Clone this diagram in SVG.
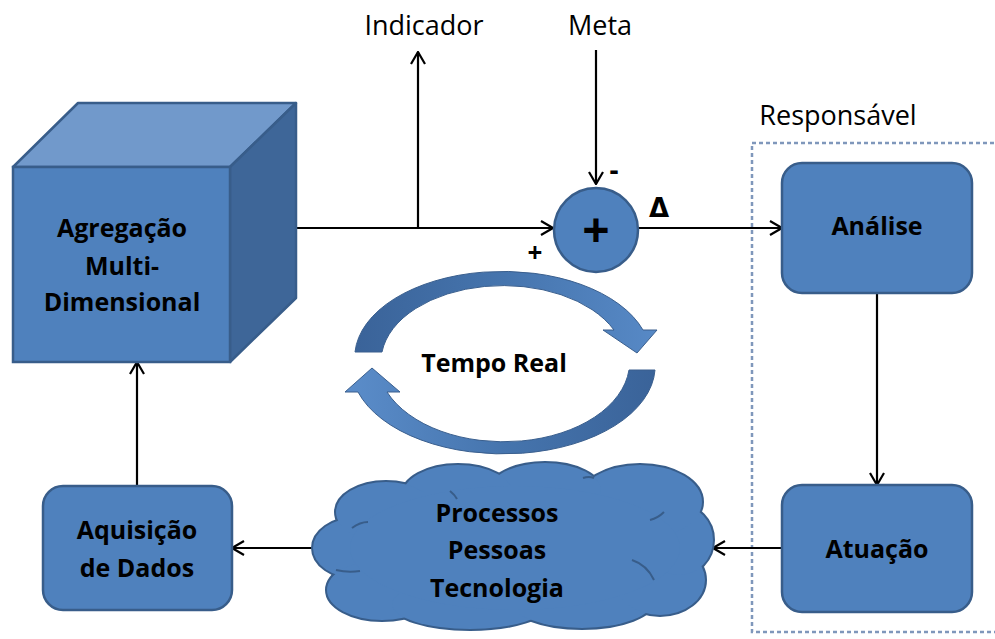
<svg xmlns="http://www.w3.org/2000/svg" width="995" height="639" viewBox="0 0 995 639">
  <style>
    .lbl { font-family: "Open Sans", "Noto Sans", "Liberation Sans", sans-serif; font-weight: bold; font-size: 25px; fill: #000; text-anchor: middle; }
    .cap { font-family: "Open Sans", "Noto Sans", "Liberation Sans", sans-serif; font-size: 27px; fill: #000; text-anchor: middle; }
    .sym { font-family: "Open Sans", "Liberation Sans", sans-serif; font-weight: bold; fill: #000; text-anchor: middle; }
    .box { fill: #4F81BD; stroke: #385D8A; stroke-width: 2.5; }
    .wire { fill: none; stroke: #000; stroke-width: 2.2; }
    .cloudline { fill: none; stroke: #385D8A; stroke-width: 2; }
  </style>
  <defs>
    <marker id="arr" viewBox="0 0 14 16" refX="13" refY="8" markerWidth="14" markerHeight="16" markerUnits="userSpaceOnUse" orient="auto">
      <path d="M1,1 L13,8 L1,15" fill="none" stroke="#000" stroke-width="2.2"/>
    </marker>
    <linearGradient id="gUp" x1="0" y1="0" x2="1" y2="0">
      <stop offset="0" stop-color="#3A6399"/>
      <stop offset="0.5" stop-color="#4675AE"/>
      <stop offset="1" stop-color="#5789C6"/>
    </linearGradient>
    <linearGradient id="gDown" x1="1" y1="0" x2="0" y2="0">
      <stop offset="0" stop-color="#3A6399"/>
      <stop offset="0.5" stop-color="#4675AE"/>
      <stop offset="1" stop-color="#5B8DCA"/>
    </linearGradient>
  </defs>

  <rect width="995" height="639" fill="#fff"/>

  <!-- responsibility frame -->
  <rect id="responsavel-frame" x="752" y="143" width="260" height="489" fill="none" stroke="#7F97BB" stroke-width="2.5" stroke-dasharray="4 3"/>
  <text class="cap" x="838" y="125">Responsável</text>

  <!-- connectors -->
  <g id="connectors">
    <line class="wire" x1="296" y1="228" x2="553" y2="228" marker-end="url(#arr)"/>
    <line class="wire" x1="418" y1="228" x2="418" y2="52" marker-end="url(#arr)"/>
    <line class="wire" x1="596" y1="50" x2="596" y2="184" marker-end="url(#arr)"/>
    <line class="wire" x1="638" y1="228" x2="782" y2="228" marker-end="url(#arr)"/>
    <line class="wire" x1="877" y1="293" x2="877" y2="485" marker-end="url(#arr)"/>
    <line class="wire" x1="782" y1="548" x2="713" y2="548" marker-end="url(#arr)"/>
    <line class="wire" x1="313" y1="548" x2="232" y2="548" marker-end="url(#arr)"/>
    <line class="wire" x1="137" y1="486" x2="137" y2="362" marker-end="url(#arr)"/>
  </g>

  <!-- top labels -->
  <text class="cap" x="424" y="35">Indicador</text>
  <text class="cap" x="600" y="35">Meta</text>

  <!-- cube -->
  <g id="agregacao">
    <polygon points="13,167 78,103 296,103 230,167" fill="#7199CB" stroke="#385D8A" stroke-width="2.5" stroke-linejoin="round"/>
    <polygon points="230,167 296,103 296,298 230,362" fill="#3E6698" stroke="#385D8A" stroke-width="2.5" stroke-linejoin="round"/>
    <rect x="13" y="167" width="217" height="195" fill="#4F81BD" stroke="#385D8A" stroke-width="2.5"/>
    <text class="lbl" x="122" y="237">Agregação</text>
    <text class="lbl" x="122" y="275">Multi-</text>
    <text class="lbl" x="122" y="311">Dimensional</text>
  </g>

  <!-- summing junction -->
  <g id="soma">
    <circle cx="596" cy="230" r="42" fill="#4F81BD" stroke="#385D8A" stroke-width="2.5"/>
    <text class="sym" x="596" y="247" font-size="48">+</text>
    <text class="sym" x="614" y="180" font-size="28">-</text>
    <text class="sym" x="535" y="262" font-size="26">+</text>
    <text x="659" y="217" font-family="DejaVu Sans, sans-serif" font-weight="bold" font-size="26" text-anchor="middle">Δ</text>
  </g>

  <!-- process boxes -->
  <g id="analise">
    <rect class="box" x="782" y="163" width="190" height="130" rx="20"/>
    <text class="lbl" x="877" y="235">Análise</text>
  </g>
  <g id="atuacao">
    <rect class="box" x="782" y="485" width="190" height="127" rx="20"/>
    <text class="lbl" x="877" y="558">Atuação</text>
  </g>
  <g id="aquisicao">
    <rect class="box" x="43" y="486" width="189" height="124" rx="20"/>
    <text class="lbl" x="137" y="539">Aquisição</text>
    <text class="lbl" x="137" y="577">de Dados</text>
  </g>

  <!-- cloud: stroked lobes underneath, filled lobes on top leave only the outer outline -->
  <g id="cloud">
    <g fill="none" stroke="#385D8A" stroke-width="4">
      <ellipse cx="356" cy="548" rx="43" ry="30"/>
      <ellipse cx="382" cy="590" rx="55" ry="30"/>
      <ellipse cx="470" cy="604" rx="78" ry="25"/>
      <ellipse cx="582" cy="600" rx="72" ry="28"/>
      <ellipse cx="660" cy="580" rx="45" ry="35"/>
      <ellipse cx="679" cy="540" rx="34" ry="35"/>
      <ellipse cx="640" cy="502" rx="62" ry="37"/>
      <ellipse cx="545" cy="491" rx="56" ry="28"/>
      <ellipse cx="458" cy="496" rx="56" ry="31"/>
      <ellipse cx="386" cy="512" rx="50" ry="30"/>
    </g>
    <g fill="#4F81BD">
      <ellipse cx="356" cy="548" rx="43" ry="30"/>
      <ellipse cx="382" cy="590" rx="55" ry="30"/>
      <ellipse cx="470" cy="604" rx="78" ry="25"/>
      <ellipse cx="582" cy="600" rx="72" ry="28"/>
      <ellipse cx="660" cy="580" rx="45" ry="35"/>
      <ellipse cx="679" cy="540" rx="34" ry="35"/>
      <ellipse cx="640" cy="502" rx="62" ry="37"/>
      <ellipse cx="545" cy="491" rx="56" ry="28"/>
      <ellipse cx="458" cy="496" rx="56" ry="31"/>
      <ellipse cx="386" cy="512" rx="50" ry="30"/>
      <ellipse cx="515" cy="548" rx="165" ry="62"/>
    </g>
    <path class="cloudline" d="M352,528 q8,-6 16,-6"/>
    <path class="cloudline" d="M336,570 q12,3 24,1"/>
    <path class="cloudline" d="M450,491 q5,4 7,8"/>
    <path class="cloudline" d="M583,478 q6,-2 11,0"/>
    <path class="cloudline" d="M650,520 q8,-2 14,-8"/>
    <path class="cloudline" d="M632,560 q15,5 22,20"/>
    <text class="lbl" x="497" y="522">Processos</text>
    <text class="lbl" x="497" y="559">Pessoas</text>
    <text class="lbl" x="497" y="597">Tecnologia</text>
  </g>

  <!-- real-time cycle arrows -->
  <g id="tempo-real">
    <path d="M355,352 A148 86 0 0 1 643,330 L657,330 L637,353 L603,330 L614,330 A122 76 0 0 0 382,352 Z" fill="url(#gUp)" stroke="#3A5F8E" stroke-width="1"/>
    <path d="M655,370 A152 88 0 0 1 358,392 L345,392 L372,368 L400,392 L387,392 A126 80 0 0 0 629,370 Z" fill="url(#gDown)" stroke="#3A5F8E" stroke-width="1"/>
    <text class="lbl" x="494" y="372" font-size="23">Tempo Real</text>
  </g>
</svg>
